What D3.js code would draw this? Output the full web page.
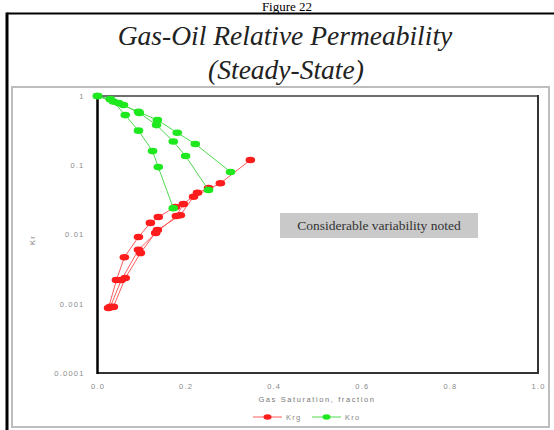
<!DOCTYPE html>
<html>
<head>
<meta charset="utf-8">
<script src="https://cdn.jsdelivr.net/npm/d3@7"></script>
<style>
  html, body { margin: 0; padding: 0; background: #fff; }
  svg { display: block; }
</style>
</head>
<body>
<svg id="chart" width="554" height="430"></svg>
<script>
// Gas saturation (fraction) and relative permeability for three steady-state runs
const kroSg1 = [0.0, 0.036, 0.063, 0.093, 0.125, 0.138, 0.172];
const kro1   = [1.0, 0.83, 0.53, 0.316, 0.16, 0.094, 0.024];
const kroSg2 = [0.0, 0.029, 0.059, 0.095, 0.134, 0.172, 0.200, 0.252];
const kro2   = [1.0, 0.90, 0.74, 0.57, 0.38, 0.22, 0.136, 0.044];
const kroSg3 = [0.0, 0.048, 0.093, 0.136, 0.181, 0.222, 0.302];
const kro3   = [1.0, 0.79, 0.59, 0.45, 0.295, 0.203, 0.080];

const krgSg1 = [0.025, 0.043, 0.061, 0.093, 0.120, 0.138, 0.177];
const krg1   = [0.00087, 0.0022, 0.0047, 0.0092, 0.0147, 0.0179, 0.025];
const krgSg2 = [0.029, 0.054, 0.093, 0.132, 0.179, 0.195, 0.227, 0.252];
const krg2   = [0.0009, 0.0022, 0.006, 0.0105, 0.0185, 0.0275, 0.040, 0.047];
const krgSg3 = [0.036, 0.063, 0.0975, 0.136, 0.188, 0.218, 0.279, 0.347];
const krg3   = [0.0009, 0.00235, 0.0054, 0.0116, 0.019, 0.035, 0.055, 0.119];

const xTicks = [0, 0.2, 0.4, 0.6, 0.8, 1.0];
const yTicks = [1, 0.1, 0.01, 0.001, 0.0001];
const yTickLabels = ["1", "0.1", "0.01", "0.001", "0.0001"];
const seriesNames = ["Krg", "Kro"];

const RED = "#ff1c1c", RED_LINE = "#ff5a5a";
const GREEN = "#1ee81e", GREEN_LINE = "#4fd84f";

const zip = (xs, ys) => xs.map((x, i) => ({ sg: x, kr: ys[i] }));
const krgRuns = [zip(krgSg1, krg1), zip(krgSg2, krg2), zip(krgSg3, krg3)];
const kroRuns = [zip(kroSg1, kro1), zip(kroSg2, kro2), zip(kroSg3, kro3)];

const svg = d3.select("#chart");

// page frame
svg.append("text").attr("x", 287).attr("y", 11).attr("text-anchor", "middle")
  .attr("font-family", "Liberation Serif").attr("font-size", 13).attr("fill", "#000")
  .text("Figure 22");
svg.append("line").attr("x1", 7).attr("y1", 13.5).attr("x2", 554).attr("y2", 13.5)
  .attr("stroke", "#000").attr("stroke-width", 2);
svg.append("line").attr("x1", 7).attr("y1", 12.5).attr("x2", 7).attr("y2", 430)
  .attr("stroke", "#000").attr("stroke-width", 3);

// title
svg.append("text").attr("x", 285).attr("y", 45).attr("text-anchor", "middle")
  .attr("font-family", "Liberation Serif").attr("font-style", "italic")
  .attr("font-size", 27.5).attr("fill", "#222").text("Gas-Oil Relative Permeability");
svg.append("text").attr("x", 286).attr("y", 79).attr("text-anchor", "middle")
  .attr("font-family", "Liberation Serif").attr("font-style", "italic")
  .attr("font-size", 27.5).attr("fill", "#222").text("(Steady-State)");

// chart panel
svg.append("rect").attr("x", 12).attr("y", 87).attr("width", 537).attr("height", 340)
  .attr("fill", "none").attr("stroke", "#bdbdbd").attr("stroke-width", 2);

const x = d3.scaleLinear().domain([0, 1]).range([97.5, 538]);
const y = d3.scaleLog().domain([0.0001, 1]).range([373, 96]);

// plot frame
const L = x.range()[0], R = x.range()[1], T = y.range()[1], B = y.range()[0];
svg.append("line").attr("x1", L).attr("y1", T).attr("x2", R).attr("y2", T)
  .attr("stroke", "#6e6e6e").attr("stroke-width", 2);
svg.append("line").attr("x1", R).attr("y1", T - 1).attr("x2", R).attr("y2", B + 1)
  .attr("stroke", "#333").attr("stroke-width", 2);
svg.append("line").attr("x1", L).attr("y1", B).attr("x2", R + 1).attr("y2", B)
  .attr("stroke", "#333").attr("stroke-width", 2);
svg.append("line").attr("x1", L).attr("y1", T - 1).attr("x2", L).attr("y2", B + 1)
  .attr("stroke", "#000").attr("stroke-width", 2.5);

const tickFont = g => g.selectAll("text")
  .attr("font-family", "Liberation Sans").attr("font-size", 7.5)
  .attr("letter-spacing", 1.2).attr("fill", "#8a8a8a");

const xAxis = svg.append("g").attr("transform", `translate(0,${B + 8})`)
  .call(d3.axisBottom(x).tickValues(xTicks).tickFormat(d3.format(".1f")).tickSize(0));
xAxis.select(".domain").remove();
xAxis.call(tickFont);

const yAxis = svg.append("g").attr("transform", `translate(${L - 10},0)`)
  .call(d3.axisLeft(y).tickValues(yTicks)
    .tickFormat((d, i) => yTickLabels[i]).tickSize(0));
yAxis.select(".domain").remove();
yAxis.call(tickFont);

// axis titles
svg.append("text").attr("x", 317).attr("y", 402).attr("text-anchor", "middle")
  .attr("font-family", "Liberation Sans").attr("font-size", 7.5)
  .attr("letter-spacing", 1.6).attr("fill", "#777").text("Gas Saturation, fraction");
svg.append("text").attr("transform", "translate(35,240) rotate(-90)")
  .attr("text-anchor", "middle").attr("font-family", "Liberation Sans")
  .attr("font-size", 7.5).attr("letter-spacing", 1.2).attr("fill", "#888").text("Kr");

// curves
const line = d3.line().x(d => x(d.sg)).y(d => y(d.kr));

function drawRuns(runs, lineColor, dotColor) {
  const g = svg.append("g");
  g.selectAll("path").data(runs).join("path")
    .attr("d", line).attr("fill", "none")
    .attr("stroke", lineColor).attr("stroke-width", 1);
  g.selectAll("ellipse").data(runs.flat()).join("ellipse")
    .attr("cx", d => x(d.sg)).attr("cy", d => y(d.kr))
    .attr("rx", 4.8).attr("ry", 3.3).attr("fill", dotColor);
}
drawRuns(krgRuns, RED_LINE, RED);
drawRuns(kroRuns, GREEN_LINE, GREEN);

// note
const note = svg.append("g");
note.append("rect").attr("x", 280).attr("y", 213).attr("width", 198).attr("height", 25)
  .attr("fill", "#c9c9c9");
note.append("text").attr("x", 379).attr("y", 230).attr("text-anchor", "middle")
  .attr("font-family", "Liberation Serif").attr("font-size", 13.5).attr("fill", "#333")
  .text("Considerable variability noted");

// legend
const legend = svg.append("g");
const legendItems = [
  { name: seriesNames[0], line: RED_LINE, dot: RED, x0: 253 },
  { name: seriesNames[1], line: GREEN_LINE, dot: GREEN, x0: 312 }
];
legendItems.forEach(it => {
  legend.append("line").attr("x1", it.x0).attr("x2", it.x0 + 29)
    .attr("y1", 417).attr("y2", 417).attr("stroke", it.line).attr("stroke-width", 1);
  legend.append("ellipse").attr("cx", it.x0 + 14.5).attr("cy", 417)
    .attr("rx", 4).attr("ry", 2.8).attr("fill", it.dot);
  legend.append("text").attr("x", it.x0 + 33).attr("y", 420)
    .attr("font-family", "Liberation Sans").attr("font-size", 7.5)
    .attr("letter-spacing", 1.2).attr("fill", "#888").text(it.name);
});
</script>
</body>
</html>
